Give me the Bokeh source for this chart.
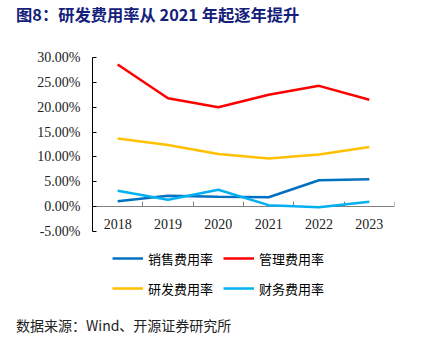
from bokeh.plotting import figure
from bokeh.models import (Range1d, LinearAxis, FixedTicker, PrintfTickFormatter,
                          Legend, LegendItem, Div)
from bokeh.layouts import column
from bokeh.embed import file_html
from bokeh.resources import INLINE
import numpy as np

years = ["2018", "2019", "2020", "2021", "2022", "2023"]
sales = [1.1, 2.2, 2.0, 1.9, 5.3, 5.5]
admin = [28.6, 21.8, 20.0, 22.5, 24.3, 21.5]
rnd = [13.7, 12.4, 10.6, 9.7, 10.5, 12.0]
finance = [3.2, 1.4, 3.4, 0.3, -0.1, 1.0]
series_names = ["销售费用率", "管理费用率", "研发费用率", "财务费用率"]
series_colors = ["#0070C0", "#FF0000", "#FFC000", "#00B0F0"]
y_ticks = [-5, 0, 5, 10, 15, 20, 25, 30]
title_text = "图8：研发费用率从 2021 年起逐年提升"
source_text = "数据来源：Wind、开源证券研究所"

n = len(years)
centers = list(np.arange(n) + 0.5)
bounds = list(np.arange(1, n + 1).astype(float))

# layout: the frame spans from the 30% line down to the legend area
y_top, y_axis_bottom = 30, -5
px_per_unit = 174 / (y_top - y_axis_bottom)
y_low = y_axis_bottom - 74 / px_per_unit


def rule(height, color, margin):
    r = figure(width=412, height=height, margin=margin, output_backend="svg",
               toolbar_location=None, x_axis_location=None, y_axis_location=None,
               min_border=0, x_range=Range1d(0, 1), y_range=Range1d(0, 1))
    r.grid.visible = False
    r.outline_line_color = None
    r.background_fill_color = color
    r.border_fill_color = color
    return r


title_div = Div(width=438, height=32, margin=0, text=(
    '<div style="padding-left:16px;line-height:28px;'
    'font-family:\'Noto Sans CJK SC\';font-weight:bold;font-size:16.3px;'
    'color:#14217A;white-space:nowrap">' + title_text + '</div>'))
title_rule = rule(3, "#8C8C8C", (0, 10, 5, 16))

p = figure(width=438, height=265, x_range=Range1d(0, n), y_range=Range1d(y_low, y_top),
           output_backend="svg", toolbar_location=None,
           x_axis_location=None, y_axis_location="left",
           min_border_left=92, min_border_right=44, min_border_top=17, min_border_bottom=0)
p.grid.visible = False
p.outline_line_color = None
p.background_fill_color = "white"
p.border_fill_color = "white"

ya = p.yaxis[0]
ya.bounds = (y_axis_bottom, y_top)
ya.ticker = FixedTicker(ticks=y_ticks)
ya.formatter = PrintfTickFormatter(format="%.2f%%")
ya.axis_line_color = "#000000"
ya.major_tick_line_color = "#000000"
ya.major_tick_in = 4
ya.major_tick_out = 0
ya.minor_tick_line_color = None
ya.major_label_standoff = 12
ya.major_label_text_font = "Liberation Serif"
ya.major_label_text_font_size = "14px"
ya.major_label_text_color = "#222222"

xa = LinearAxis(ticker=FixedTicker(ticks=centers, minor_ticks=bounds), fixed_location=0,
                axis_line_color="#808080", major_tick_line_color=None,
                major_tick_in=0, major_tick_out=0,
                minor_tick_line_color="#808080", minor_tick_in=5, minor_tick_out=0,
                major_label_overrides={c: y for c, y in zip(centers, years)},
                major_label_standoff=12,
                major_label_text_font="Liberation Serif",
                major_label_text_font_size="14px",
                major_label_text_color="#222222")
p.add_layout(xa, "below")

items = []
for name, vals, col in zip(series_names, [sales, admin, rnd, finance], series_colors):
    r = p.line(centers, vals, line_color=col, line_width=2.5, level="annotation")
    items.append(LegendItem(label=name, renderers=[r]))

legend = Legend(items=items, orientation="horizontal", ncols=2,
                location=(20, 7), padding=0, margin=0, spacing=10,
                glyph_width=31, glyph_height=20, label_height=20, label_standoff=5,
                label_text_font="Noto Sans CJK SC", label_text_font_size="13px",
                label_text_color="#000000",
                border_line_color=None, background_fill_alpha=0)
p.add_layout(legend, "center")

source_rule = rule(1, "#404040", (7, 10, 0, 16))
source_div = Div(width=438, height=37, margin=0, text=(
    '<div style="padding-left:16px;line-height:24px;'
    'font-family:\'Noto Sans CJK SC\';font-size:14px;color:#222222;'
    'white-space:nowrap">' + source_text + '</div>'))

layout = column(title_div, title_rule, p, source_rule, source_div, spacing=0)
open("out.html", "w").write(file_html(layout, INLINE))
